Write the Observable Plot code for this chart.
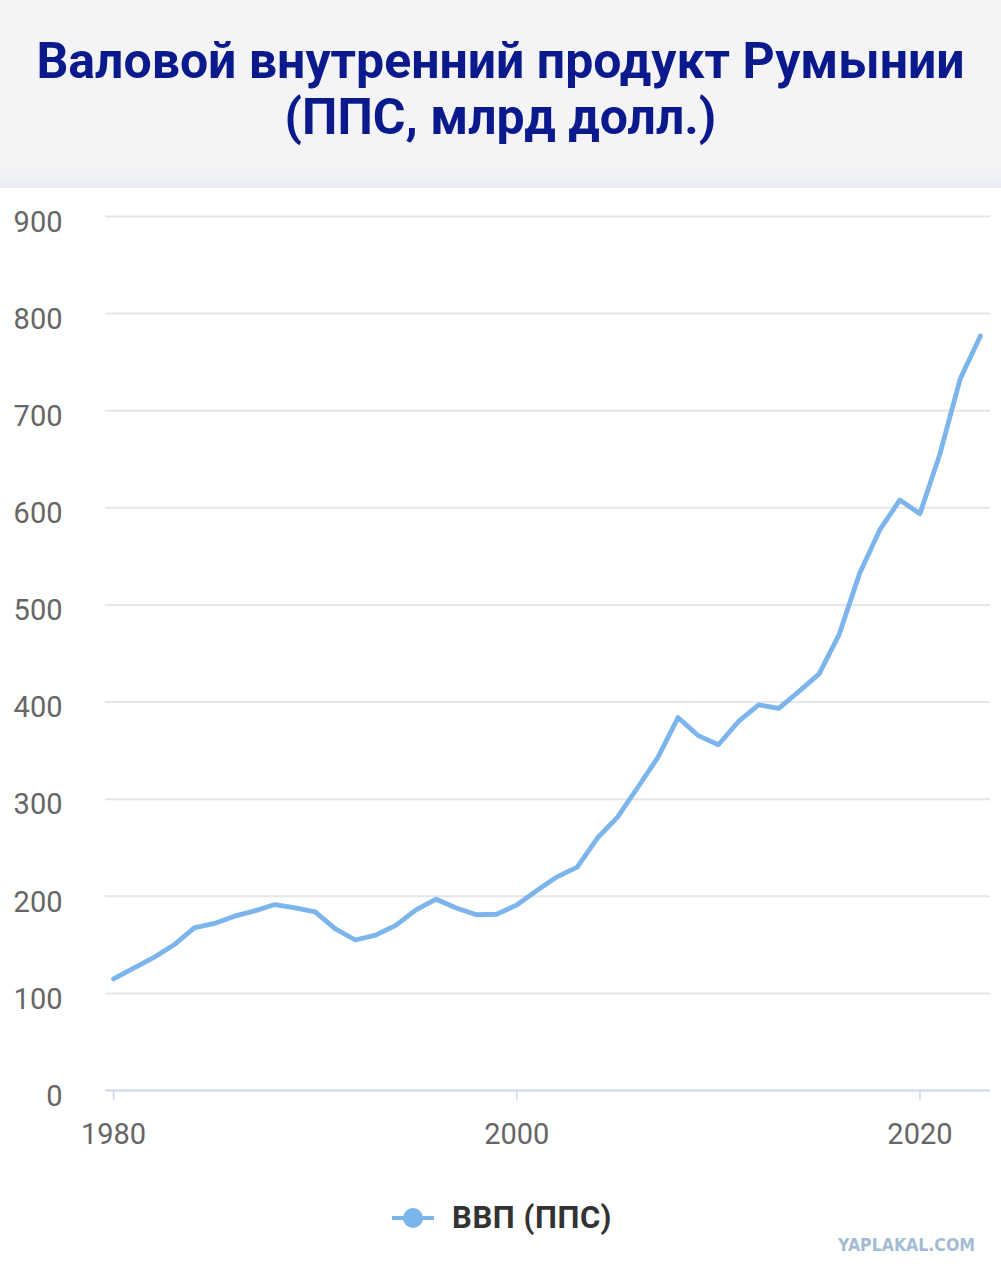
<!DOCTYPE html>
<html><head><meta charset="utf-8">
<script src="https://cdn.jsdelivr.net/npm/d3@7"></script>
<script src="https://cdn.jsdelivr.net/npm/@observablehq/plot@0.6"></script>
<style>
body{margin:0;background:#fff;font-family:Roboto,"Noto Sans",sans-serif;}
#wrap{position:relative;width:1001px;height:1275px;overflow:hidden;background:#fff;}
#head{position:absolute;left:0;top:0;width:1001px;height:188px;background:linear-gradient(#f4f4f6 0%,#f4f4f6 88%,#e9edf3 100%);}
#title{position:absolute;left:0;top:33px;width:1001px;text-align:center;font-weight:700;font-size:50px;line-height:56px;color:#0a1a8c;}
#chart{position:absolute;left:0;top:188px;}
#legend{position:absolute;left:391px;top:1199px;display:flex;align-items:center;gap:17px;font-weight:700;font-size:31px;color:#333;letter-spacing:0.6px;}
#wm{position:absolute;left:836px;top:1232px;overflow:visible;}
</style></head>
<body><div id="wrap">
<div id="head"><div id="title">Валовой внутренний продукт Румынии<br>(ППС, млрд долл.)</div></div>
<div id="chart"></div>
<div id="legend"><svg width="44" height="30"><line x1="1" x2="43" y1="15" y2="15" stroke="#7cb5ec" stroke-width="4"/><circle cx="22" cy="15" r="10" fill="#7cb5ec"/></svg><span>ВВП (ППС)</span></div>
<svg id="wm" width="150" height="26"><text x="2" y="19" textLength="137" lengthAdjust="spacingAndGlyphs" font-family="DejaVu Sans" font-weight="700" font-size="17" fill="#a4bcd3">YAPLAKAL.COM</text></svg>
</div>
<script>
const years = [1980,1981,1982,1983,1984,1985,1986,1987,1988,1989,1990,1991,1992,1993,1994,1995,1996,1997,1998,1999,2000,2001,2002,2003,2004,2005,2006,2007,2008,2009,2010,2011,2012,2013,2014,2015,2016,2017,2018,2019,2020,2021,2022,2023];
const gdp = [115,126,137,150,167.5,172,179.5,185,191.5,188,184,166.5,155,160,170,186,197,188,181,181.5,191,206,220,230,260,281.5,312,343,384,365.5,356,380,397,393.5,411,429,470,532,577,608,594,656,733,777];
const yTicks = [0,100,200,300,400,500,600,700,800,900];
const xTicks = [1980,2000,2020];
const seriesName = "ВВП (ППС)";

const data = years.map((y,i)=>({year:y, value:gdp[i]}));

const chart = Plot.plot({
  width: 1001,
  height: 985,
  marginTop: 28,
  marginBottom: 83,
  marginLeft: 105,
  marginRight: 11,
  style: {fontFamily: "Roboto, sans-serif", background: "transparent", overflow: "visible"},
  x: {domain: [1979.6, 2023.5], axis: null},
  y: {domain: [0, 900], axis: null},
  marks: [
    Plot.ruleY(yTicks.filter(d=>d>0), {stroke: "#e6e6e6", strokeWidth: 2}),
    Plot.ruleY([0], {stroke: "#ccd6eb", strokeWidth: 2}),
    Plot.axisX({ticks: xTicks, tickSize: 10, tickPadding: 23, stroke: "#ccd6eb", strokeWidth: 1.5, strokeOpacity: 1, fill: "#666", fontSize: 29, tickFormat: d => String(d), label: null}),
    Plot.axisY({ticks: yTicks, tickSize: 0, tickPadding: 43, fill: "#666", fontSize: 29, dy: 6, tickFormat: d => String(d), label: null}),
    Plot.line(data, {x: "year", y: "value", stroke: "#7cb5ec", strokeWidth: 4.8, strokeLinejoin: "round", strokeLinecap: "round"})
  ]
});
document.getElementById("chart").appendChild(chart);
</script>
</body></html>
